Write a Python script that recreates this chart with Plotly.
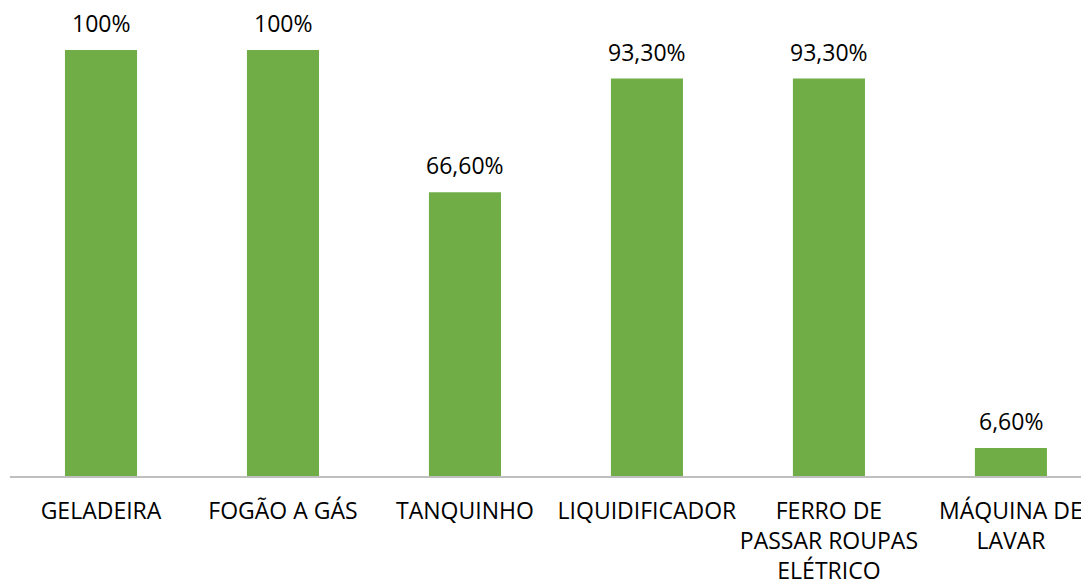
import plotly.graph_objects as go

categories = ["GELADEIRA", "FOGÃO A GÁS", "TANQUINHO", "LIQUIDIFICADOR",
              "FERRO DE<br>PASSAR ROUPAS<br>ELÉTRICO", "MÁQUINA DE<br>LAVAR"]
values = [100, 100, 66.6, 93.3, 93.3, 6.6]
value_labels = ["100%", "100%", "66,60%", "93,30%", "93,30%", "6,60%"]

fig = go.Figure(go.Bar(
    x=categories, y=values,
    marker=dict(color="#70AD47", line=dict(width=0)), width=0.396,
    hoverinfo="skip",
))
for c, v, t in zip(categories, values, value_labels):
    fig.add_annotation(x=c, y=v, xref="x", yref="y", text=t, showarrow=False,
                       yanchor="bottom", yshift=9,
                       font=dict(family="Open Sans", size=23, color="#000000"))
fig.update_layout(
    width=1089, height=583,
    margin=dict(l=2, r=0, t=0, b=115),
    paper_bgcolor="white", plot_bgcolor="white",
    font=dict(family="Open Sans", size=23, color="#000000"),
    showlegend=False,
    xaxis=dict(range=[-0.5, 5.473], showline=True, linecolor="#BFBFBF", linewidth=1.5,
               ticks="", showgrid=False, tickfont=dict(size=23), tickangle=0,
               ticklabelstandoff=14, fixedrange=True),
    yaxis=dict(range=[0, 109.86], visible=False, showgrid=False, fixedrange=True),
)
fig.write_html("out.html")
